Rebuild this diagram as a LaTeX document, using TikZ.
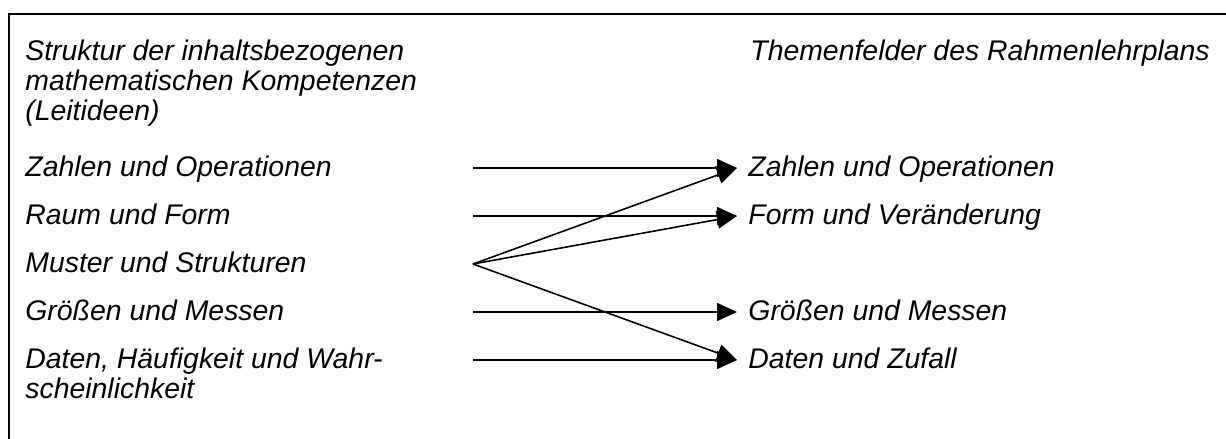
\documentclass[tikz,border=0pt]{standalone}
\usepackage{fontspec}
\setmainfont{Liberation Sans}
\usetikzlibrary{arrows.meta}
\tikzset{
	label/.style={anchor=base west, inner sep=0pt, align=left, font=\fontsize{14.2}{15}\selectfont\itshape},
	ziel/.style={label, inner xsep=5.5pt, text height=11pt, text depth=3pt},
	pfeil/.style={line width=.8pt, -{Triangle[length=10pt,width=9pt]}}
}
\begin{document}
\begin{tikzpicture}[x=.5pt,y=-.5pt]
		\useasboundingbox (0,0) rectangle (1226,439);
		\draw[line width=1pt] (9,439) -- (9,13.5) -- (1226,13.5);
		% Leitideen
		\node[label] (kopfL) at (25,120) {Struktur der inhaltsbezogenen\\mathematischen Kompetenzen\\(Leitideen)};
		\node[label] (zahlen) at (25,176) {Zahlen und Operationen};
		\node[label] (raum) at (25,224) {Raum und Form};
		\node[label] (muster) at (25,272) {Muster und Strukturen};
		\node[label] (groessen) at (25,320) {Größen und Messen};
		\node[label] (daten) at (25,398) {Daten, Häufigkeit und Wahr-\\scheinlichkeit};
		% Themenfelder
		\node[label] (kopfR) at (750,60) {Themenfelder des Rahmenlehrplans};
		\node[ziel] (tZahlen) at (737,176) {Zahlen und Operationen};
		\node[ziel] (tForm) at (737,224) {Form und Veränderung};
		\node[ziel] (tGroessen) at (737,320) {Größen und Messen};
		\node[ziel] (tDaten) at (737,368) {Daten und Zufall};
		\coordinate (aZahlen) at (473,168);
		\coordinate (aRaum) at (473,216);
		\coordinate (aMuster) at (473,264);
		\coordinate (aGroessen) at (473,312);
		\coordinate (aDaten) at (473,360);
		\draw[pfeil] (aZahlen) -- (tZahlen.west);
		\draw[pfeil] (aRaum) -- (tForm.west);
		\draw[pfeil] (aGroessen) -- (tGroessen.west);
		\draw[pfeil] (aDaten) -- (tDaten.west);
		\draw[pfeil] (aMuster) -- (tZahlen.west);
		\draw[pfeil] (aMuster) -- (tForm.west);
		\draw[pfeil] (aMuster) -- (tDaten.west);
	\end{tikzpicture}
\end{document}
